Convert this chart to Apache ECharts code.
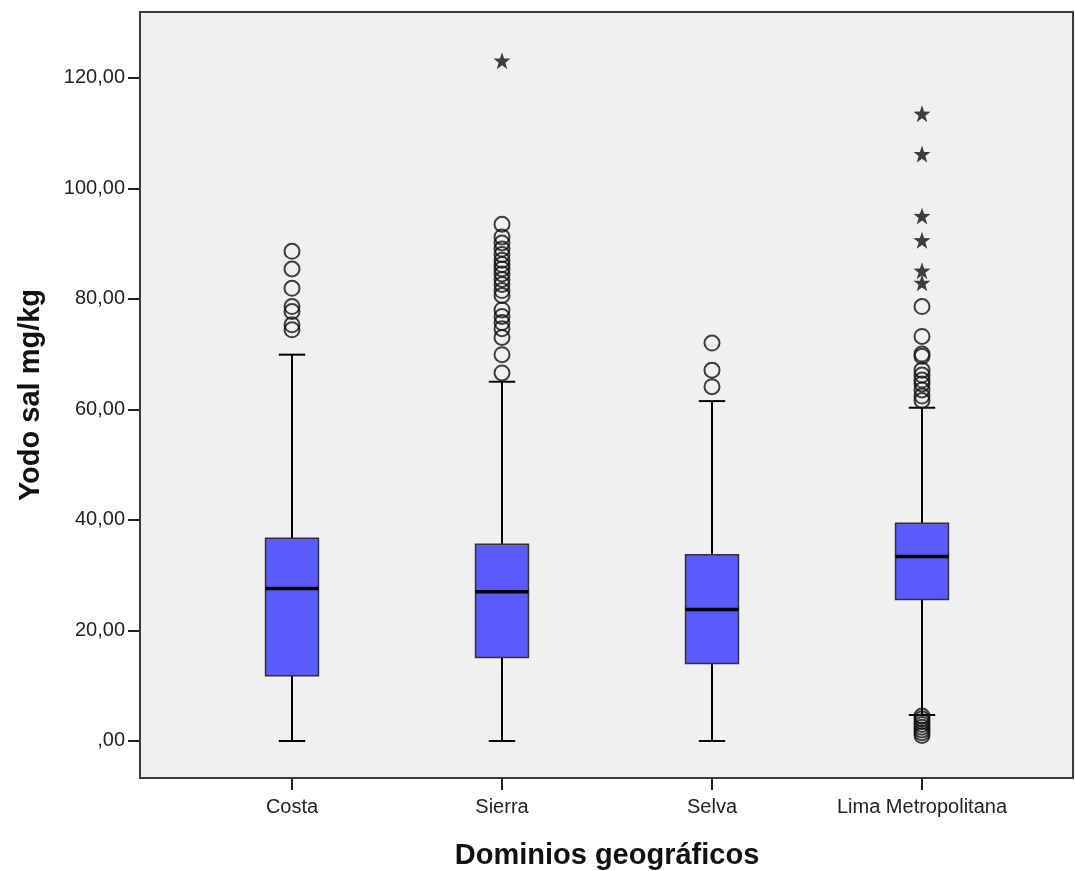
<!DOCTYPE html>
<html>
<head>
<meta charset="utf-8">
<script src="https://cdn.jsdelivr.net/npm/echarts@6/dist/echarts.min.js"></script>
<style>
  html, body { margin: 0; padding: 0; background: #ffffff; }
  #chart { width: 1075px; height: 871px; }
</style>
</head>
<body>
<div id="chart"></div>
<script>
// Dominios geográficos
const categories = ['Costa', 'Sierra', 'Selva', 'Lima Metropolitana'];

// Box statistics per domain: [lower whisker, Q1, median, Q3, upper whisker]
const costaBox  = [0, 11.8, 27.6, 36.7, 69.9];
const sierraBox = [0, 15.1, 27.0, 35.6, 65.0];
const selvaBox  = [0, 14.0, 23.8, 33.7, 61.5];
const limaBox   = [4.7, 25.6, 33.4, 39.4, 60.3];

// Outliers (circles) and extreme values (stars)
const costaOutliers  = [88.6, 85.4, 81.9, 78.6, 77.7, 75.3, 74.4];
const sierraOutliers = [93.5, 91.2, 90.1, 89.0, 88.0, 87.0, 86.2, 85.4, 84.5, 83.5, 82.6,
                        81.5, 80.6, 78.0, 76.8, 75.7, 74.6, 73.0, 69.9, 66.6];
const selvaOutliers  = [72.0, 67.1, 64.1];
const limaOutliers   = [78.6, 73.2, 70.0, 69.6, 67.1, 66.2, 65.3, 64.6, 63.5, 62.4, 61.6,
                        4.5, 4.0, 3.5, 3.0, 2.5, 2.0, 1.5, 1.0];
const sierraExtremes = [123.1];
const limaExtremes   = [113.5, 106.2, 95.0, 90.6, 85.1, 82.9];

// Y axis ticks
const yTicks = [0, 20, 40, 60, 80, 100, 120];

const boxes = [costaBox, sierraBox, selvaBox, limaBox];
const outlierSets = [costaOutliers, sierraOutliers, selvaOutliers, limaOutliers];
const extremeSets = [[], sierraExtremes, [], limaExtremes];

const boxData = boxes.map((b, i) => [i].concat(b));
const outlierData = [];
outlierSets.forEach((arr, i) => arr.forEach(v => outlierData.push([i, v])));
const extremeData = [];
extremeSets.forEach((arr, i) => arr.forEach(v => extremeData.push([i, v])));

const starPath = 'path://M50 0 L61.8 33.8 L97.6 34.5 L69 56.2 L79.4 90.5 L50 70 L20.6 90.5 L31 56.2 L2.4 34.5 L38.2 33.8 Z';

const font = '"Liberation Sans", Arial, sans-serif';
const boxFill = '#5a5aff';

function renderBox(params, api) {
  const c = api.value(0);
  const lo = api.coord([c, api.value(1)]);
  const q1 = api.coord([c, api.value(2)]);
  const md = api.coord([c, api.value(3)]);
  const q3 = api.coord([c, api.value(4)]);
  const hi = api.coord([c, api.value(5)]);
  const band = api.size([1, 0])[0];
  const half = band * 0.126;
  const cap = half / 2;
  const x = lo[0];
  const lineStyle = { stroke: '#000', lineWidth: 2 };
  return {
    type: 'group',
    children: [
      { type: 'line', shape: { x1: x, y1: hi[1], x2: x, y2: q3[1] }, style: lineStyle },
      { type: 'line', shape: { x1: x, y1: q1[1], x2: x, y2: lo[1] }, style: lineStyle },
      { type: 'line', shape: { x1: x - cap, y1: hi[1], x2: x + cap, y2: hi[1] }, style: lineStyle },
      { type: 'line', shape: { x1: x - cap, y1: lo[1], x2: x + cap, y2: lo[1] }, style: lineStyle },
      { type: 'rect', shape: { x: x - half, y: q3[1], width: half * 2, height: q1[1] - q3[1] },
        style: { fill: boxFill, stroke: '#333', lineWidth: 1.5 } },
      { type: 'line', shape: { x1: x - half, y1: md[1], x2: x + half, y2: md[1] },
        style: { stroke: '#000', lineWidth: 3.5 } }
    ]
  };
}

const chart = echarts.init(document.getElementById('chart'), null, { renderer: 'canvas' });
chart.setOption({
  backgroundColor: '#ffffff',
  animation: false,
  graphic: [
    { type: 'rect', z: -10, silent: true,
      shape: { x: 140, y: 12, width: 933, height: 766 },
      style: { fill: '#f0f0f0' } },
    { type: 'rect', z: 100, silent: true,
      shape: { x: 140, y: 12, width: 933, height: 766 },
      style: { fill: 'none', stroke: '#3a3a3a', lineWidth: 2 } }
  ],
  grid: { left: 187, right: 48, top: 12, bottom: 93, containLabel: false, outerBoundsMode: 'none' },
  xAxis: {
    type: 'category',
    data: categories,
    boundaryGap: true,
    axisLine: { show: false, onZero: false },
    axisTick: { show: true, alignWithLabel: true, interval: 0, length: 12, lineStyle: { color: '#222', width: 2 } },
    axisLabel: { color: '#222', fontSize: 20, fontFamily: font, margin: 19, interval: 0 },
    splitLine: { show: false },
    name: 'Dominios geográficos',
    nameLocation: 'middle',
    nameGap: 63,
    nameTextStyle: { color: '#111', fontSize: 29, fontWeight: 'bold', fontFamily: font }
  },
  yAxis: {
    type: 'value',
    min: -6.7,
    max: 131.9,
    offset: 47,
    axisLine: { show: false },
    axisTick: { show: true, length: 12, customValues: yTicks, lineStyle: { color: '#222', width: 2 } },
    axisLabel: {
      color: '#222', fontSize: 20, fontFamily: font, margin: 15,
      customValues: yTicks,
      formatter: v => (v === 0 ? ',00' : v + ',00')
    },
    splitLine: { show: false },
    name: 'Yodo sal mg/kg',
    nameLocation: 'middle',
    nameRotate: 90,
    nameGap: 95,
    nameTextStyle: { color: '#111', fontSize: 29, fontWeight: 'bold', fontFamily: font }
  },
  series: [
    { type: 'custom', renderItem: renderBox, data: boxData, z: 3 },
    { type: 'scatter', data: outlierData, symbol: 'circle', symbolSize: 15, z: 4,
      itemStyle: { color: 'rgba(0,0,0,0)', borderColor: '#111', borderWidth: 2 } },
    { type: 'scatter', data: extremeData, symbol: starPath, symbolSize: 17, z: 4,
      itemStyle: { color: '#111' } }
  ]
});
</script>
</body>
</html>
